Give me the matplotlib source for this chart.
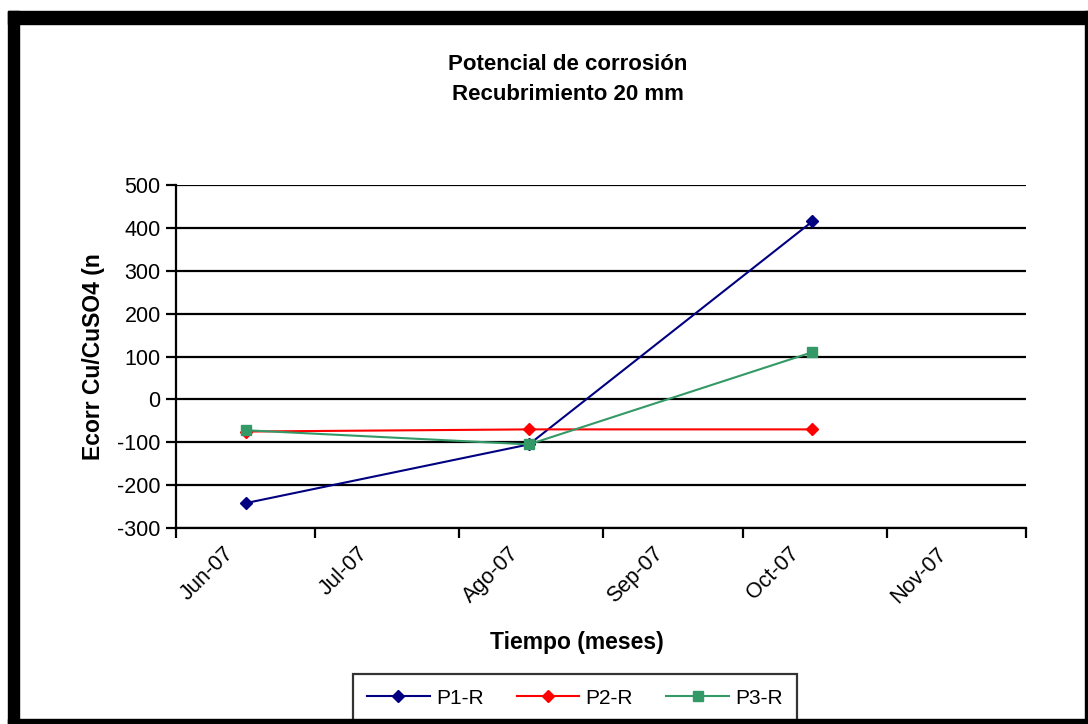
import matplotlib
matplotlib.use("Agg")
import matplotlib.pyplot as plt
import matplotlib.transforms as mtransforms
from matplotlib.patches import Rectangle
from datetime import datetime

plt.rcParams.update({
    "font.family": ["Liberation Sans", "DejaVu Sans"],
    "font.size": 15,
    "axes.unicode_minus": False,
})

# data
fechas = [datetime(2007, 6, 16), datetime(2007, 8, 16), datetime(2007, 10, 16)]
p1_r = [-242, -105, 415]
p2_r = [-75, -70, -70]
p3_r = [-72, -105, 110]

meses = [datetime(2007, m, 1) for m in range(6, 13)]
etiquetas_mes = ["Jun-07", "Jul-07", "Ago-07", "Sep-07", "Oct-07", "Nov-07", ""]
yticks = list(range(-300, 501, 100))

W, H = 1088, 724
fig = plt.figure(figsize=(W / 100, H / 100), dpi=100)
ax = fig.add_axes([176 / W, 1 - 528 / H, 850 / W, 343 / H])

ax.plot(fechas, p1_r, "-D", color="#000080", lw=1.5, ms=6, label="P1-R", zorder=3)
ax.plot(fechas, p2_r, "-D", color="#ff0000", lw=1.5, ms=6, label="P2-R", zorder=4)
ax.plot(fechas, p3_r, "-s", color="#339966", lw=1.5, ms=7, label="P3-R", zorder=5)

ax.set_xlim(meses[0], meses[-1])
ax.set_ylim(-300, 500)
ax.set_yticks(yticks)
ax.yaxis.grid(True, color="black", lw=1.6)
ax.set_axisbelow(True)

ax.set_xticks(meses)
ax.set_xticklabels(etiquetas_mes, rotation=45, ha="left", va="top")
offset = mtransforms.ScaledTranslation(14 / 100, 0, fig.dpi_scale_trans)
for lbl in ax.get_xticklabels():
    lbl.set_transform(lbl.get_transform() + offset)

for side in ["top", "right"]:
    ax.spines[side].set_visible(False)
for side in ["left", "bottom"]:
    ax.spines[side].set_linewidth(1.6)
ax.tick_params(direction="out", length=7, width=1.6, labelsize=15.5, pad=4)

ax.set_ylabel("Ecorr Cu/CuSO4 (n", fontweight="bold", fontsize=16.5)
ax.yaxis.set_label_coords(-0.084, 0.5)
ax.set_xlabel("Tiempo (meses)", fontweight="bold", fontsize=16.5)
ax.xaxis.set_label_coords(0.472, -0.30)

fig.text(568 / W, 1 - 79.5 / H, "Potencial de corrosión\nRecubrimiento 20 mm",
         ha="center", va="center", fontweight="bold", fontsize=16,
         linespacing=1.55)

leg = fig.legend(loc="upper center", bbox_to_anchor=(575 / W, 1 - 674 / H),
                 ncol=3, frameon=True, fancybox=False, edgecolor="black",
                 fontsize=15, handlelength=3.0, columnspacing=1.6,
                 handletextpad=0.3, borderpad=0.7, borderaxespad=0)
leg.get_frame().set_linewidth(1.6)

# black frame around the picture
for x0, y0, w, h in [(8, 11, 11, 713), (8, 11, 1080, 13),
                     (1085, 11, 3, 713), (8, 719, 1080, 5)]:
    fig.patches.append(Rectangle((x0 / W, 1 - (y0 + h) / H), w / W, h / H,
                                 transform=fig.transFigure, color="black",
                                 zorder=20))

fig.savefig("out.png", dpi=100)
